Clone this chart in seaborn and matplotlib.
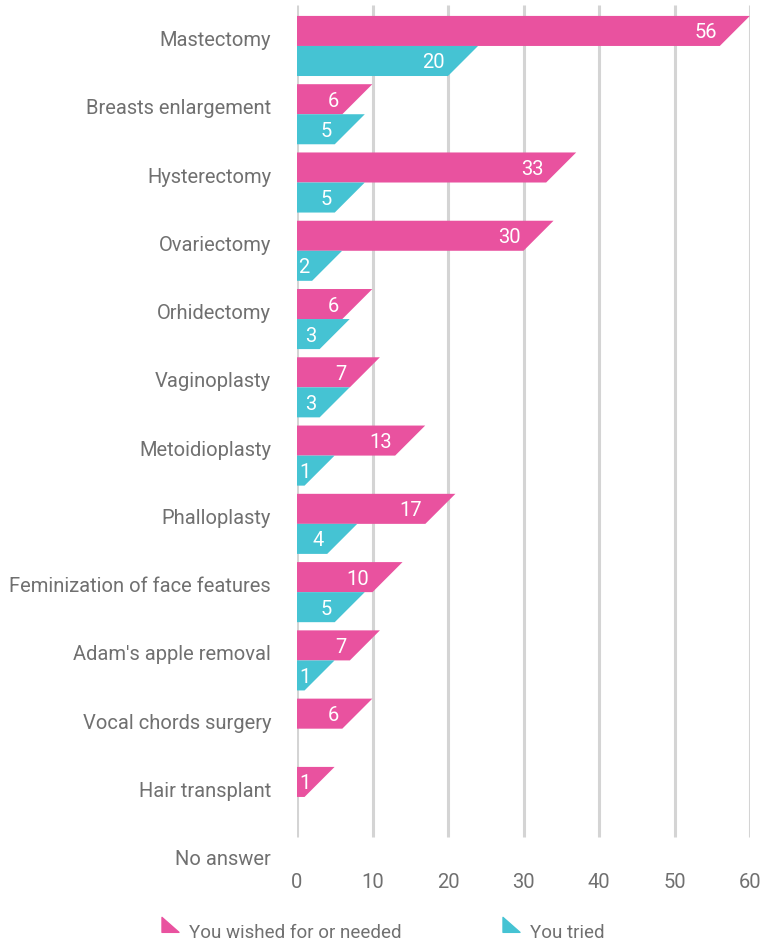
import numpy as np
import pandas as pd
import matplotlib
matplotlib.use('Agg')
import matplotlib.pyplot as plt
import seaborn as sns
from matplotlib.patches import Polygon
from matplotlib.path import Path
from matplotlib.lines import Line2D

procedures = ['Mastectomy', 'Breasts enlargement', 'Hysterectomy', 'Ovariectomy',
              'Orhidectomy', 'Vaginoplasty', 'Metoidioplasty', 'Phalloplasty',
              'Feminization of face features', "Adam's apple removal",
              'Vocal chords surgery', 'Hair transplant', 'No answer']
wished = [56, 6, 33, 30, 6, 7, 13, 17, 10, 7, 6, 1, np.nan]
tried = [20, 5, 5, 2, 3, 3, 1, 4, 5, 1, np.nan, np.nan, np.nan]
series = ['You wished for or needed', 'You tried']
xticks = [0, 10, 20, 30, 40, 50, 60]

PINK = '#E9529F'
CYAN = '#45C3D3'
GREY = '#707070'
GRID = '#D4D4D4'
FS = 14.5

df = pd.DataFrame({'procedure': procedures * 2,
                   'count': wished + tried,
                   'series': [series[0]] * len(procedures) + [series[1]] * len(procedures)})

sns.set_style('white')
plt.rcParams['font.family'] = ['Roboto', 'DejaVu Sans']

fig = plt.figure(figsize=(7.62, 9.44), dpi=100)
ax = fig.add_axes([297 / 762, (944 - 870) / 944, (750 - 297) / 762, (870 - 5) / 944])

sns.barplot(data=df.dropna(), x='count', y='procedure', hue='series', order=procedures,
            hue_order=series, palette=[PINK, CYAN], saturation=1, width=0.88,
            linewidth=0, legend=False, ax=ax)

ax.set_xlim(0, 60)
ax.set_ylim(12.07, -0.6)

# slanted ends: 45 degrees, so the slant equals the bar height in pixels
px_per_x = (750 - 297) / 60
px_per_y = (870 - 5) / (12.07 + 0.6)

for bar in list(ax.patches):
    w = bar.get_width()
    if not np.isfinite(w) or w <= 0:
        continue
    y = bar.get_y()
    h = bar.get_height()
    slant = h * px_per_y / px_per_x
    poly = Polygon([(0, y), (w + slant, y), (w, y + h), (0, y + h)], closed=True,
                   facecolor=bar.get_facecolor(), edgecolor='none', clip_on=False, zorder=3)
    ax.add_patch(poly)
    bar.set_visible(False)
    if w * px_per_x < 14:
        # too short to hold the number: start it at the axis instead
        ax.annotate(f'{int(w)}', xy=(0, y + h / 2), xytext=(2, 0), textcoords='offset pixels',
                    ha='left', va='center_baseline', color='white', fontsize=FS, zorder=4)
    else:
        ax.annotate(f'{int(w)}', xy=(w, y + h / 2), xytext=(-3, 0), textcoords='offset pixels',
                    ha='right', va='center_baseline', color='white', fontsize=FS, zorder=4)

ax.vlines(xticks, -0.6, 11.59, color=GRID, linewidth=2.2, zorder=1)
ax.grid(False)
for s in ax.spines.values():
    s.set_visible(False)

ax.set_xticks(xticks)
ax.set_xticklabels([str(t) for t in xticks])
ax.set_yticks(range(len(procedures)))
ax.set_yticklabels(procedures, va='baseline')
ax.tick_params(axis='both', length=0, colors=GREY, labelsize=FS)
ax.tick_params(axis='y', pad=18.7)
ax.tick_params(axis='x', pad=2)
ax.set_xlabel('')
ax.set_ylabel('')

# legend with right-angle triangle markers
tri = Path([(-1, -0.1), (-1, 1.66), (1, -0.1), (-1, -0.1)],
           [Path.MOVETO, Path.LINETO, Path.LINETO, Path.CLOSEPOLY])
handles = [Line2D([], [], marker=tri, markersize=20.3, color=c, linestyle='none')
           for c in [PINK, CYAN]]
for hnd, lab, x0 in zip(handles, series, [162, 503]):
    fig.legend([hnd], [lab], loc='center left', bbox_to_anchor=(x0 / 762, 1 - 933 / 944),
               frameon=False, borderpad=0, borderaxespad=0, handlelength=0.9,
               handletextpad=0.55, fontsize=13.5, labelcolor=GREY)

fig.savefig('out.png', dpi=100)
